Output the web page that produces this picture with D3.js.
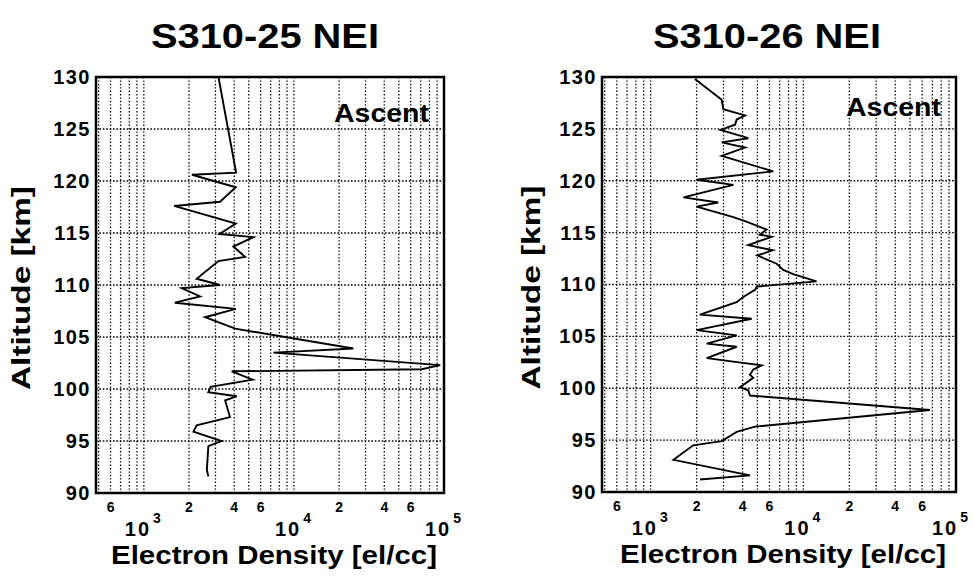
<!DOCTYPE html>
<html>
<head>
<meta charset="utf-8">
<script src="https://cdn.jsdelivr.net/npm/d3@7"></script>
<style>
  html, body { margin: 0; padding: 0; background: #fff; }
  svg text { font-family: "Liberation Sans", Arial, Helvetica, sans-serif; font-weight: bold; fill: #000; }
</style>
</head>
<body>
<svg id="chart" width="974" height="586"></svg>
<script>
// ---- Data ----
const titles = ["S310-25 NEI", "S310-26 NEI"];
const panelLabel = "Ascent";
const xTitle = "Electron Density [el/cc]";
const yTitle = "Altitude [km]";
const xDomain = [480, 1e5];
const yDomain = [90, 130];
const yTicks = [90, 95, 100, 105, 110, 115, 120, 125, 130];
const xMinorLabelValues = [600, 2000, 4000, 6000, 20000, 40000, 60000];
const xMinorLabelText = ["6", "2", "4", "6", "2", "4", "6"];
const xMajorValues = [1e3, 1e4, 1e5];
const xMajorExponents = ["3", "4", "5"];

// S310-25 ascent profile
const alt25 = [130.0, 120.8, 120.6, 119.4, 118.0, 117.6, 115.9, 114.9, 114.6, 113.7, 112.7, 112.3,
  110.6, 110.0, 109.7, 108.9, 108.3, 107.7, 106.9, 105.8, 103.9, 103.5, 102.3, 101.9, 101.7,
  100.9, 100.2, 99.7, 99.3, 98.9, 97.3, 96.5, 95.9, 95.0, 94.5, 92.2, 91.6];
const dens25 = [3140, 4120, 2090, 4100, 3220, 1590, 4100, 3190, 5370, 3950, 4730, 3140,
  2250, 3220, 1790, 2370, 1610, 4100, 2560, 4060, 24900, 7300, 94300, 71200, 3850,
  5320, 2790, 2690, 4160, 3480, 3750, 2250, 2140, 3300, 2690, 2630, 2690];

// S310-26 ascent profile
const alt26 = [129.8, 127.8, 126.9, 126.3, 125.9, 125.4, 124.9, 124.1, 123.7, 123.2, 122.4,
  120.9, 120.1, 119.6, 118.4, 117.9, 117.5, 116.5, 116.1, 115.3, 114.8, 114.6, 113.8, 113.3,
  112.8, 112.0, 111.4, 111.0, 110.3, 109.8, 109.5, 108.8, 108.3, 107.1, 106.7, 105.6, 105.1,
  104.3, 104.0, 102.9, 102.2, 101.8, 101.3, 101.0, 100.1, 99.8, 99.3, 97.9, 96.3, 95.8, 94.9,
  94.5, 93.1, 91.6, 91.2];
const dens26 = [1950, 2920, 2990, 4150, 3660, 3570, 2870, 4360, 2920, 4150, 2920,
  6350, 2000, 3480, 1640, 2770, 2000, 3480, 4150, 5750, 5200, 6200, 4360, 6300,
  5000, 6690, 7390, 8590, 12200, 4950, 4850, 4040, 3660, 2100, 4590, 2000, 3660,
  2330, 3660, 2330, 5340, 4700, 4470, 4700, 3850, 4360, 4470, 67500, 4820, 3660, 2920,
  1900, 1410, 4470, 2100];

const panels = [
  { title: titles[0], alt: alt25, dens: dens25, x0: 96, x1: 444, y0: 77, y1: 493, titleX: 265, yTitleX: 30, ascentBase: 122 },
  { title: titles[1], alt: alt26, dens: dens26, x0: 602, x1: 956, y0: 77, y1: 492, titleX: 767, yTitleX: 540, ascentBase: 116 }
];

const svg = d3.select("#chart");
const maxRight = 970;

panels.forEach(p => {
  const x = d3.scaleLog().domain(xDomain).range([p.x0, p.x1]);
  const y = d3.scaleLinear().domain(yDomain).range([p.y1, p.y0]);
  const g = svg.append("g");

  // Title
  g.append("text").attr("x", p.titleX).attr("y", 48)
    .attr("text-anchor", "middle").attr("font-size", 35)
    .attr("textLength", 228).attr("lengthAdjust", "spacingAndGlyphs")
    .text(p.title);

  // Vertical grid lines (log minor + major)
  const gridVals = [];
  for (let e = 2; e <= 5; e++) {
    for (let m = 1; m <= 9; m++) {
      const v = m * Math.pow(10, e);
      if (v > xDomain[0] && v < xDomain[1]) gridVals.push(v);
    }
  }
  g.append("g").selectAll("line").data(gridVals).join("line")
    .attr("x1", d => x(d)).attr("x2", d => x(d))
    .attr("y1", p.y0).attr("y2", p.y1)
    .attr("stroke", "#000").attr("stroke-width", 1.3)
    .attr("stroke-dasharray", "1.4,2");

  // Horizontal grid lines
  g.append("g").selectAll("line").data(yTicks.filter(d => d > yDomain[0] && d < yDomain[1])).join("line")
    .attr("x1", p.x0).attr("x2", p.x1)
    .attr("y1", d => y(d)).attr("y2", d => y(d))
    .attr("stroke", "#000").attr("stroke-width", 1.4)
    .attr("stroke-dasharray", "1.6,1.8");

  // Y axis (labels)
  const yAxis = d3.axisLeft(y).tickValues(yTicks).tickSize(0).tickPadding(5);
  const ya = g.append("g").attr("transform", `translate(${p.x0},0)`).call(yAxis);
  ya.select(".domain").remove();
  ya.selectAll("text").attr("font-size", 20).attr("letter-spacing", 1.5)
    .attr("font-family", null).style("font-family", "'Liberation Sans', Arial, sans-serif").style("font-weight", "bold");

  // Minor X labels
  g.append("g").selectAll("text").data(xMinorLabelValues).join("text")
    .attr("x", d => x(d)).attr("y", p.y1 + 19)
    .attr("text-anchor", "middle").attr("font-size", 14)
    .text((d, i) => xMinorLabelText[i]);

  // Major X labels (10^n)
  const maj = g.append("g").selectAll("text").data(xMajorValues).join("text")
    .attr("x", d => x(d)).attr("y", p.y1 + 43)
    .attr("text-anchor", "middle").attr("font-size", 20).attr("letter-spacing", 2);
  maj.append("tspan").text("10");
  maj.append("tspan").attr("dy", -13).attr("dx", 2).attr("font-size", 14).text((d, i) => xMajorExponents[i]);
  maj.each(function(d) {
    const bb = this.getBBox();
    const over = bb.x + bb.width - maxRight;
    if (over > 0) d3.select(this).attr("x", x(d) - over);
  });

  // X title
  g.append("text").attr("x", (p.x0 + p.x1) / 2 + 4).attr("y", p.y1 + 71)
    .attr("text-anchor", "middle").attr("font-size", 25)
    .attr("textLength", 326).attr("lengthAdjust", "spacingAndGlyphs")
    .text(xTitle);

  // Y title
  g.append("text")
    .attr("transform", `translate(${p.yTitleX},${(p.y0 + p.y1) / 2 + 3}) rotate(-90)`)
    .attr("text-anchor", "middle").attr("font-size", 25)
    .attr("textLength", 204).attr("lengthAdjust", "spacingAndGlyphs")
    .text(yTitle);

  // Ascent label
  g.append("text").attr("x", p.x1 - 15).attr("y", p.ascentBase)
    .attr("text-anchor", "end").attr("font-size", 25)
    .attr("textLength", 95).attr("lengthAdjust", "spacingAndGlyphs")
    .text(panelLabel);

  // Profile line
  const pts = p.alt.map((a, i) => [p.dens[i], a]);
  g.append("path").datum(pts)
    .attr("fill", "none").attr("stroke", "#000").attr("stroke-width", 1.9)
    .attr("stroke-linejoin", "miter")
    .attr("d", d3.line().x(d => x(d[0])).y(d => y(d[1])));

  // Frame
  g.append("rect").attr("x", p.x0).attr("y", p.y0)
    .attr("width", p.x1 - p.x0).attr("height", p.y1 - p.y0)
    .attr("fill", "none").attr("stroke", "#000").attr("stroke-width", 2.5);
});
</script>
</body>
</html>
